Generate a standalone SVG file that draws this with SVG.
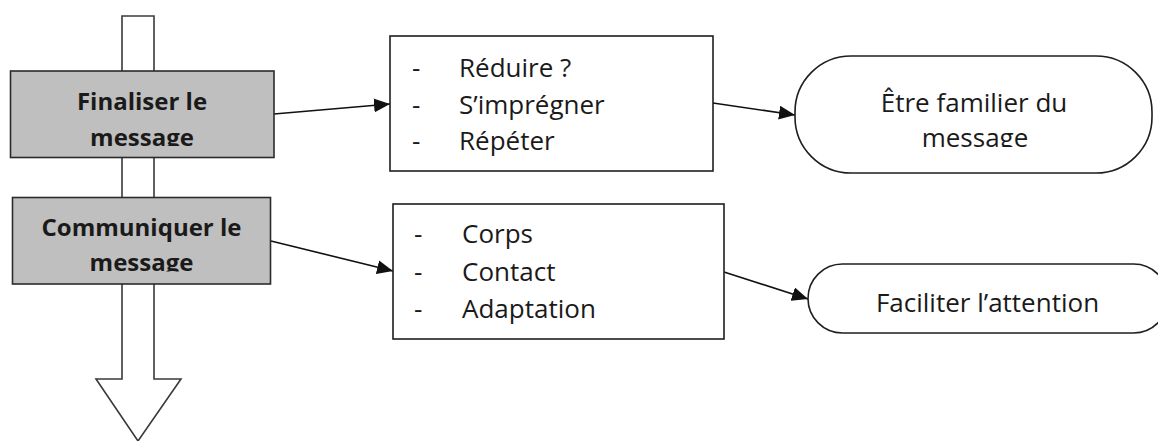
<svg xmlns="http://www.w3.org/2000/svg" width="1158" height="441" viewBox="0 0 1158 441">
<style>
.bg{fill:#ffffff}
.step{fill:#bfbfbf;stroke:#2b2b2b;stroke-width:1.6}
.list{fill:#ffffff;stroke:#1e1e1e;stroke-width:1.6}
.goal{fill:#ffffff;stroke:#1e1e1e;stroke-width:1.6}
.flow{fill:#ffffff;stroke:#3a3a3a;stroke-width:1.6}
.conn{stroke:#111;stroke-width:1.6;fill:none}
.bt{font-family:"Open Sans","Liberation Sans",Arial,sans-serif;font-weight:bold;font-size:24px;fill:#1a1a1a;text-anchor:middle}
.t{font-family:"Open Sans","Liberation Sans",Arial,sans-serif;font-size:26px;fill:#1a1a1a}
.tc{font-family:"Open Sans","Liberation Sans",Arial,sans-serif;font-size:26px;fill:#1a1a1a;text-anchor:middle}
</style>
<defs>
<marker id="ah" markerUnits="userSpaceOnUse" markerWidth="18" markerHeight="14" refX="16" refY="7" orient="auto">
<path d="M0,0 L16,7 L0,14 Z" fill="#111"/>
</marker>
<clipPath id="c1"><rect x="0" y="60" width="300" height="86"/></clipPath>
<clipPath id="c2"><rect x="0" y="190" width="300" height="81.5"/></clipPath>
<clipPath id="c3"><rect x="780" y="50" width="378" height="97"/></clipPath>
</defs>
<rect class="bg" x="0" y="0" width="1158" height="441"/>
<g id="flow-arrow">
<polygon class="flow" points="122,16 154,16 154,379 181,379 138,441 96,379 122,379"/>
</g>
<g id="connectors">
<line class="conn" x1="274" y1="114" x2="390" y2="104" marker-end="url(#ah)"/>
<line class="conn" x1="271" y1="241" x2="393" y2="271" marker-end="url(#ah)"/>
<line class="conn" x1="713" y1="103" x2="795" y2="115" marker-end="url(#ah)"/>
<line class="conn" x1="724" y1="272" x2="808" y2="299" marker-end="url(#ah)"/>
</g>
<g id="finaliser">
<rect class="step" x="10.5" y="71" width="263.5" height="86.5"/>
<g clip-path="url(#c1)">
<text class="bt" x="142" y="110">Finaliser le</text>
<text class="bt" x="142" y="145.5">message</text>
</g>
</g>
<g id="communiquer">
<rect class="step" x="12.5" y="197.5" width="258" height="86.5"/>
<g clip-path="url(#c2)">
<text class="bt" x="141.5" y="235.5">Communiquer le</text>
<text class="bt" x="141.5" y="271">message</text>
</g>
</g>
<g id="list1">
<rect class="list" x="390" y="36" width="323" height="135"/>
<text class="t" x="412" y="77">-</text>
<text class="t" x="459" y="77">Réduire ?</text>
<text class="t" x="412" y="114">-</text>
<text class="t" x="459" y="114">S’imprégner</text>
<text class="t" x="412" y="150">-</text>
<text class="t" x="459" y="150">Répéter</text>
</g>
<g id="list2">
<rect class="list" x="393" y="204" width="331" height="135"/>
<text class="t" x="414" y="243">-</text>
<text class="t" x="462" y="243">Corps</text>
<text class="t" x="414" y="281">-</text>
<text class="t" x="462" y="281">Contact</text>
<text class="t" x="414" y="318">-</text>
<text class="t" x="462" y="318">Adaptation</text>
</g>
<g id="goal1">
<rect class="goal" x="795" y="56" width="357" height="117" rx="56" ry="56"/>
<g clip-path="url(#c3)">
<text class="tc" x="974" y="112">Être familier du</text>
<text class="tc" x="975" y="146.5">message</text>
</g>
</g>
<g id="goal2">
<rect class="goal" x="808" y="264" width="360" height="69" rx="34.5" ry="34.5"/>
<text class="tc" x="987.5" y="312">Faciliter l’attention</text>
</g>
</svg>
